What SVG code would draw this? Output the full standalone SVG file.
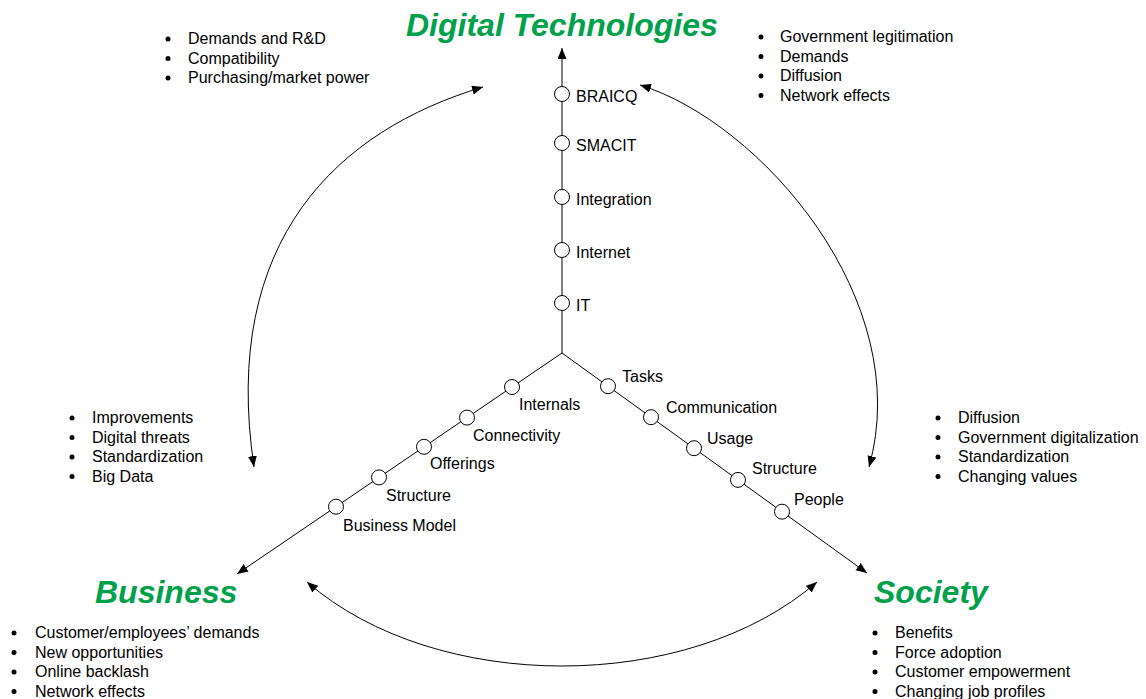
<svg xmlns="http://www.w3.org/2000/svg" width="1146" height="699" viewBox="0 0 1146 699">
<style>
.t{font-family:"Liberation Sans",Arial,sans-serif;font-size:16px;fill:#000}
.title{font-family:"Liberation Sans",Arial,sans-serif;font-size:32px;font-weight:bold;font-style:italic;fill:#00A14B}
.ln{stroke:#000;stroke-width:1;fill:none}
.nd{fill:#fff;stroke:#000;stroke-width:1}
.b{fill:#000}
</style>
<defs>
<marker id="ah" markerUnits="userSpaceOnUse" markerWidth="12" markerHeight="10" refX="11" refY="4.5" orient="auto-start-reverse">
<path d="M0,0 L11,4.5 L0,9 z" fill="#000"/>
</marker>
</defs>
<rect width="1146" height="699" fill="#fff"/>
<g id="connectors">
<line class="ln" x1="562" y1="353" x2="562" y2="48" marker-end="url(#ah)"/>
<line class="ln" x1="562" y1="353" x2="237" y2="574" marker-end="url(#ah)"/>
<line class="ln" x1="562" y1="353" x2="867" y2="573" marker-end="url(#ah)"/>
<path class="ln" d="M483,87 C339,130 220,239 254,467" marker-start="url(#ah)" marker-end="url(#ah)"/>
<path class="ln" d="M640,85 C760,122 916,300 869,467" marker-start="url(#ah)" marker-end="url(#ah)"/>
<path class="ln" d="M307,582 C436,694 688,694 817,582" marker-start="url(#ah)" marker-end="url(#ah)"/>
</g>
<g id="digital-technologies">
<text class="title" x="406" y="36">Digital Technologies</text>
<circle class="nd" cx="562" cy="94" r="7.5"/><text class="t" x="576" y="102">BRAICQ</text>
<circle class="nd" cx="562" cy="143" r="7.5"/><text class="t" x="576" y="151">SMACIT</text>
<circle class="nd" cx="562" cy="197" r="7.5"/><text class="t" x="576" y="205">Integration</text>
<circle class="nd" cx="562" cy="250" r="7.5"/><text class="t" x="576" y="258">Internet</text>
<circle class="nd" cx="562" cy="303" r="7.5"/><text class="t" x="576" y="311">IT</text>
</g>
<g id="business">
<text class="title" x="95" y="603">Business</text>
<circle class="nd" cx="512" cy="387" r="7.5"/><text class="t" x="519" y="410">Internals</text>
<circle class="nd" cx="467" cy="417.6" r="7.5"/><text class="t" x="473" y="441">Connectivity</text>
<circle class="nd" cx="424" cy="446.8" r="7.5"/><text class="t" x="430" y="469">Offerings</text>
<circle class="nd" cx="379" cy="477.4" r="7.5"/><text class="t" x="386" y="501">Structure</text>
<circle class="nd" cx="336" cy="506.7" r="7.5"/><text class="t" x="343" y="531">Business Model</text>
</g>
<g id="society">
<text class="title" x="874" y="603">Society</text>
<circle class="nd" cx="608" cy="386.2" r="7.5"/><text class="t" x="622" y="382">Tasks</text>
<circle class="nd" cx="651" cy="417.2" r="7.5"/><text class="t" x="666" y="413">Communication</text>
<circle class="nd" cx="694" cy="448.2" r="7.5"/><text class="t" x="707" y="444">Usage</text>
<circle class="nd" cx="738" cy="479.9" r="7.5"/><text class="t" x="752" y="474">Structure</text>
<circle class="nd" cx="782" cy="511.7" r="7.5"/><text class="t" x="794" y="505">People</text>
</g>
<g id="list-top-left">
<circle class="b" cx="168" cy="39" r="2.5"/><text class="t" x="188" y="44">Demands and R&amp;D</text>
<circle class="b" cx="168" cy="58.5" r="2.5"/><text class="t" x="188" y="63.5">Compatibility</text>
<circle class="b" cx="168" cy="78" r="2.5"/><text class="t" x="188" y="83">Purchasing/market power</text>
</g>
<g id="list-top-right">
<circle class="b" cx="761" cy="37" r="2.5"/><text class="t" x="780" y="42">Government legitimation</text>
<circle class="b" cx="761" cy="56.5" r="2.5"/><text class="t" x="780" y="61.5">Demands</text>
<circle class="b" cx="761" cy="76" r="2.5"/><text class="t" x="780" y="81">Diffusion</text>
<circle class="b" cx="761" cy="95.5" r="2.5"/><text class="t" x="780" y="100.5">Network effects</text>
</g>
<g id="list-mid-left">
<circle class="b" cx="72" cy="418" r="2.5"/><text class="t" x="92" y="423">Improvements</text>
<circle class="b" cx="72" cy="437.5" r="2.5"/><text class="t" x="92" y="442.5">Digital threats</text>
<circle class="b" cx="72" cy="457" r="2.5"/><text class="t" x="92" y="462">Standardization</text>
<circle class="b" cx="72" cy="476.5" r="2.5"/><text class="t" x="92" y="481.5">Big Data</text>
</g>
<g id="list-mid-right">
<circle class="b" cx="938" cy="418" r="2.5"/><text class="t" x="958" y="423">Diffusion</text>
<circle class="b" cx="938" cy="437.5" r="2.5"/><text class="t" x="958" y="442.5">Government digitalization</text>
<circle class="b" cx="938" cy="457" r="2.5"/><text class="t" x="958" y="462">Standardization</text>
<circle class="b" cx="938" cy="476.5" r="2.5"/><text class="t" x="958" y="481.5">Changing values</text>
</g>
<g id="list-bottom-left">
<circle class="b" cx="14" cy="633" r="2.5"/><text class="t" x="35" y="638">Customer/employees’ demands</text>
<circle class="b" cx="14" cy="652.5" r="2.5"/><text class="t" x="35" y="657.5">New opportunities</text>
<circle class="b" cx="14" cy="672" r="2.5"/><text class="t" x="35" y="677">Online backlash</text>
<circle class="b" cx="14" cy="691.5" r="2.5"/><text class="t" x="35" y="696.5">Network effects</text>
</g>
<g id="list-bottom-right">
<circle class="b" cx="875" cy="633" r="2.5"/><text class="t" x="895" y="638">Benefits</text>
<circle class="b" cx="875" cy="652.5" r="2.5"/><text class="t" x="895" y="657.5">Force adoption</text>
<circle class="b" cx="875" cy="672" r="2.5"/><text class="t" x="895" y="677">Customer empowerment</text>
<circle class="b" cx="875" cy="691.5" r="2.5"/><text class="t" x="895" y="696.5">Changing job profiles</text>
</g>
</svg>
